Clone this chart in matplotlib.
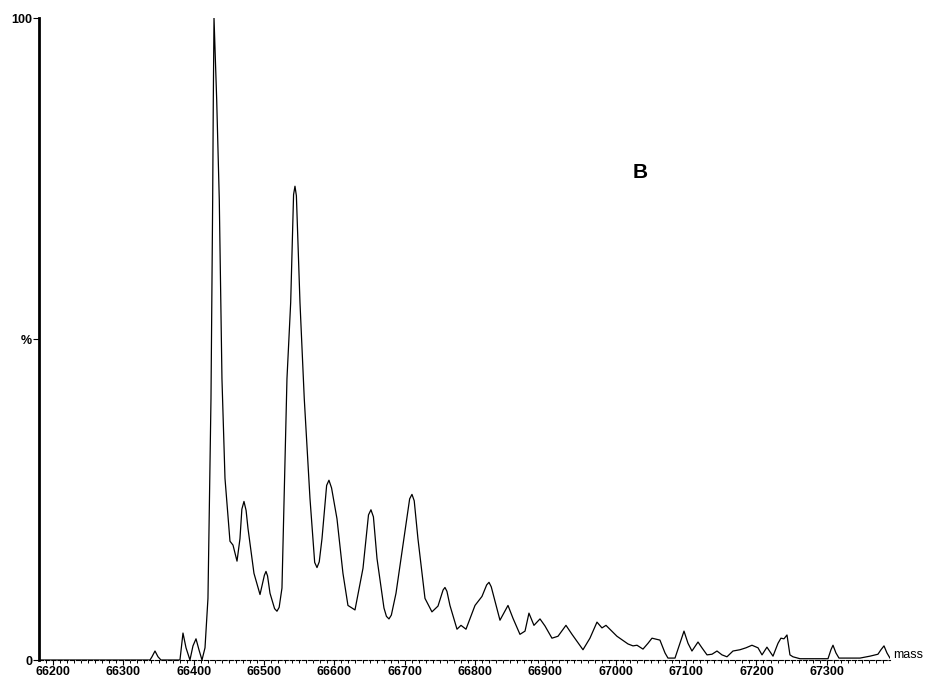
import matplotlib
matplotlib.use("Agg")
import matplotlib.pyplot as plt
from matplotlib.ticker import MultipleLocator

# spectrum: mass (Da) and relative intensity (%)
mass = [66180.1, 66337.9, 66340.7, 66345.0, 66349.3, 66353.5, 66380.5, 66384.8,
        66389.1, 66394.7, 66399.0, 66403.3, 66407.5, 66411.8, 66416.1, 66420.3,
        66424.6, 66427.0, 66427.9, 66428.9, 66432.7, 66436.4, 66440.2, 66444.5,
        66451.6, 66455.9, 66461.6, 66465.8, 66468.5, 66471.5, 66474.5, 66477.2,
        66485.7, 66494.3, 66500.5, 66502.8, 66505.0, 66508.5, 66515.0, 66518.4,
        66521.5, 66525.5, 66532.6, 66537.9, 66542.0, 66544.0, 66546.0, 66551.1,
        66557.2, 66565.3, 66572.0, 66575.3, 66578.5, 66582.4, 66589.0, 66592.3,
        66596.0, 66603.7, 66612.2, 66619.3, 66629.3, 66640.7, 66648.5, 66652.0,
        66655.5, 66660.6, 66670.5, 66674.0, 66677.6, 66681.0, 66687.6, 66698.9,
        66707.0, 66710.3, 66713.5, 66718.8, 66728.8, 66738.7, 66747.3, 66754.5,
        66757.2, 66760.0, 66764.3, 66774.3, 66780.0, 66787.1, 66799.9, 66809.8,
        66816.5, 66819.8, 66823.0, 66828.3, 66835.4, 66846.8, 66853.9, 66863.8,
        66871.0, 66876.6, 66883.7, 66892.3, 66899.4, 66909.3, 66917.9, 66929.2,
        66937.8, 66953.4, 66963.3, 66973.3, 66980.4, 66986.1, 67001.7, 67017.4,
        67024.5, 67030.2, 67038.7, 67045.8, 67051.5, 67062.8, 67070.0, 67074.2,
        67084.2, 67091.3, 67097.0, 67102.7, 67108.3, 67116.9, 67122.5, 67129.7,
        67136.8, 67143.9, 67151.0, 67158.1, 67166.6, 67176.6, 67185.1, 67193.6,
        67202.2, 67207.9, 67214.9, 67223.5, 67230.6, 67234.8, 67239.1, 67243.4,
        67247.6, 67251.9, 67261.9, 67301.7, 67305.9, 67308.8, 67313.0, 67317.3,
        67347.2, 67361.4, 67372.7, 67377.0, 67381.3, 67385.5, 67389.8]
intensity = [0, 0, 0.5, 1.4, 0.5, 0, 0, 4.2,
             1.9, 0, 2.2, 3.3, 1.6, 0, 1.9, 9.6,
             40.7, 71.7, 87.3, 100, 87.3, 71.7, 43.8, 28.3,
             18.5, 17.9, 15.4, 18.9, 23.5, 24.7, 23.3, 20.5,
             13.5, 10.2, 13.2, 13.8, 13.1, 10.4, 8.0, 7.6,
             8.2, 11.2, 43.8, 55.7, 72.5, 73.8, 72.3, 55.7,
             40.7, 25.2, 15.2, 14.4, 15.3, 18.9, 27.2, 28.0,
             26.8, 22.0, 13.5, 8.5, 7.8, 14.3, 22.6, 23.4,
             22.3, 15.8, 8.1, 6.8, 6.4, 7.0, 10.4, 18.9,
             25.1, 25.8, 24.8, 18.9, 9.6, 7.5, 8.4, 10.9,
             11.3, 10.7, 8.5, 4.8, 5.4, 4.8, 8.5, 9.9,
             11.7, 12.1, 11.4, 9.2, 6.2, 8.5, 6.5, 4.0,
             4.5, 7.3, 5.4, 6.4, 5.3, 3.4, 3.7, 5.4,
             4.0, 1.6, 3.4, 5.9, 5.0, 5.4, 3.7, 2.5,
             2.2, 2.3, 1.7, 2.6, 3.4, 3.1, 1.1, 0.3,
             0.3, 2.6, 4.5, 2.6, 1.4, 2.8, 1.9, 0.8,
             0.9, 1.4, 0.8, 0.5, 1.4, 1.6, 1.9, 2.3,
             1.9, 0.8, 2.0, 0.6, 2.6, 3.4, 3.3, 3.9,
             0.8, 0.5, 0.2, 0.2, 1.6, 2.3, 1.1, 0.3,
             0.3, 0.6, 0.9, 1.6, 2.2, 1.1, 0.3]

x_ticks = list(range(66200, 67301, 100))
y_ticks = [0, 50, 100]
y_labels = ["0", "%", "100"]

plt.rcParams['font.family'] = ['Liberation Sans', 'DejaVu Sans']

fig = plt.figure(figsize=(9.26, 6.77), dpi=100)
ax = fig.add_axes([0.0421, 0.0251, 0.919, 0.9483])

ax.plot(mass, intensity, color="black", lw=0.9)

ax.set_xlim(66180.1, 67389.8)
ax.set_ylim(0, 100)

for s in ["top", "right"]:
    ax.spines[s].set_visible(False)
ax.spines["left"].set_linewidth(2.0)
ax.spines["bottom"].set_linewidth(0.8)
ax.spines["bottom"].set_linestyle((0, (4, 1.5)))

ax.set_xticks(x_ticks)
ax.set_xticklabels([str(t) for t in x_ticks], fontsize=9, fontweight="bold")
ax.xaxis.set_minor_locator(MultipleLocator(10))
ax.tick_params(axis="x", which="major", length=3.5, width=0.8, pad=0.5, direction="out")
ax.tick_params(axis="x", which="minor", length=2.5, width=0.7, direction="out")

ax.set_yticks(y_ticks)
ax.set_yticklabels(y_labels, fontsize=9, fontweight="bold")
ax.tick_params(axis="y", length=4, width=0.8, pad=1)

ax.text(1.004, 0.008, "mass", transform=ax.transAxes, fontsize=9,
        ha="left", va="center")
ax.text(0.706, 0.759, "B", transform=ax.transAxes, fontsize=15,
        fontweight="bold", ha="center", va="center")

fig.savefig("out.png", dpi=100)
